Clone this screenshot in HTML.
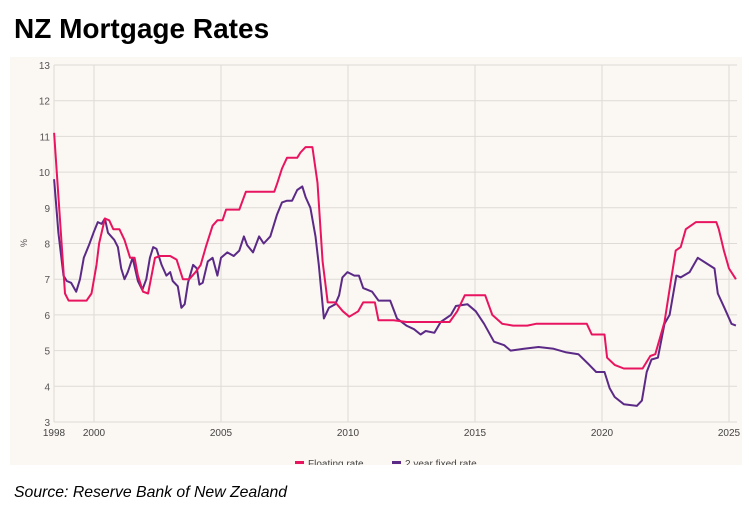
<!DOCTYPE html>
<html><head><meta charset="utf-8"><style>
body{margin:0;width:749px;height:513px;background:#fff;overflow:hidden;position:relative;font-family:"Liberation Sans",sans-serif}
#title{position:absolute;left:14px;top:13px;font-size:28px;font-weight:bold;color:#000;letter-spacing:0px}
#source{position:absolute;left:14px;top:484px;font-size:15.8px;font-style:italic;color:#000}
svg{position:absolute;left:0;top:0}
</style></head><body>
<div id="title">NZ Mortgage Rates</div>
<svg id="chart" width="749" height="513"></svg>
<div id="source">Source: Reserve Bank of New Zealand</div>
<script>
const floatYears=[1998.43,1998.86,1999.0,1999.71,1999.9,2000.1,2000.2,2000.43,2000.6,2000.76,2001.0,2001.2,2001.42,2001.6,2001.73,2001.93,2002.13,2002.4,2002.6,2003.0,2003.25,2003.5,2003.75,2004.0,2004.2,2004.4,2004.67,2004.86,2005.06,2005.2,2005.72,2005.98,2007.1,2007.22,2007.4,2007.6,2008.0,2008.13,2008.33,2008.6,2008.8,2009.0,2009.2,2009.5,2009.8,2010.05,2010.4,2010.6,2011.06,2011.2,2011.8,2012.3,2014.0,2014.3,2014.6,2015.4,2015.68,2016.07,2016.5,2017.06,2017.4,2019.4,2019.6,2020.1,2020.2,2020.5,2020.86,2021.6,2021.9,2022.1,2022.46,2022.7,2022.9,2023.1,2023.3,2023.7,2024.5,2024.6,2024.8,2025.0,2025.27];
const floatRate=[11.1,6.6,6.4,6.4,6.6,7.4,8.0,8.7,8.65,8.4,8.4,8.1,7.6,7.6,7.1,6.65,6.6,7.6,7.65,7.65,7.55,7.0,7.0,7.2,7.4,7.9,8.5,8.65,8.65,8.95,8.95,9.45,9.45,9.7,10.1,10.4,10.4,10.55,10.7,10.7,9.7,7.5,6.35,6.35,6.1,5.95,6.1,6.35,6.35,5.85,5.85,5.8,5.8,6.1,6.55,6.55,6.0,5.75,5.7,5.7,5.75,5.75,5.45,5.45,4.8,4.6,4.5,4.5,4.85,4.9,5.8,6.9,7.8,7.9,8.4,8.6,8.6,8.4,7.8,7.3,7.0];
const fixedYears=[1998.43,1998.6,1998.8,1998.93,1999.1,1999.3,1999.45,1999.6,1999.8,1999.98,2000.15,2000.3,2000.43,2000.55,2000.8,2000.94,2001.07,2001.2,2001.33,2001.52,2001.73,2001.9,2002.06,2002.2,2002.33,2002.46,2002.66,2002.85,2003.0,2003.1,2003.3,2003.44,2003.57,2003.7,2003.9,2004.05,2004.15,2004.28,2004.48,2004.67,2004.86,2005.0,2005.25,2005.5,2005.72,2005.9,2006.03,2006.26,2006.5,2006.68,2006.94,2007.07,2007.2,2007.4,2007.6,2007.8,2008.0,2008.2,2008.33,2008.52,2008.72,2008.85,2009.05,2009.25,2009.5,2009.65,2009.78,2009.98,2010.25,2010.43,2010.6,2010.95,2011.2,2011.66,2011.93,2012.3,2012.6,2012.86,2013.06,2013.4,2013.65,2014.05,2014.25,2014.7,2015.03,2015.36,2015.75,2016.15,2016.4,2016.93,2017.5,2018.1,2018.6,2019.07,2019.5,2019.77,2020.1,2020.3,2020.5,2020.86,2021.37,2021.57,2021.76,2021.95,2022.2,2022.46,2022.66,2022.93,2023.1,2023.45,2023.77,2024.1,2024.43,2024.56,2024.82,2025.1,2025.27];
const fixedRate=[9.8,8.3,7.1,6.95,6.9,6.65,7.0,7.6,7.95,8.3,8.6,8.55,8.7,8.3,8.1,7.9,7.3,7.0,7.2,7.6,6.95,6.7,7.0,7.6,7.9,7.85,7.4,7.1,7.2,6.95,6.8,6.2,6.3,6.9,7.4,7.3,6.85,6.9,7.5,7.6,7.1,7.6,7.75,7.65,7.8,8.2,7.95,7.75,8.2,8.0,8.2,8.5,8.8,9.15,9.2,9.2,9.5,9.6,9.3,9.0,8.2,7.4,5.9,6.2,6.3,6.55,7.05,7.2,7.1,7.1,6.75,6.65,6.4,6.4,5.9,5.7,5.6,5.45,5.55,5.5,5.8,6.0,6.25,6.3,6.1,5.75,5.25,5.15,5.0,5.05,5.1,5.05,4.95,4.9,4.6,4.4,4.4,3.95,3.7,3.5,3.45,3.6,4.4,4.75,4.8,5.75,6.0,7.1,7.05,7.2,7.6,7.45,7.3,6.6,6.2,5.75,5.7];
const yTicks=[3,4,5,6,7,8,9,10,11,12,13];
const xTicks=[2000,2005,2010,2015,2020,2025];
const NS="http://www.w3.org/2000/svg";
const svg=document.getElementById('chart');
const X=y=>94+(y-2000)*25.4;
const Y=v=>65+(13-v)*35.7;
function mk(t,a,p){const e=document.createElementNS(NS,t);for(const k in a)e.setAttribute(k,a[k]);(p||svg).appendChild(e);return e;}
const panel=mk('rect',{x:10,y:57,width:732,height:408,fill:'#fbf7f3'});


const grid=mk('g',{});


yTicks.forEach(v=>{
  mk('line',{x1:54,x2:737,y1:Y(v),y2:Y(v),stroke:'#dedad6','stroke-width':1},grid);
  const t=mk('text',{x:50,y:Y(v)+4,'text-anchor':'end','font-size':10,fill:'#555'});
  t.textContent=v;
  
  
});
mk('line',{x1:54,x2:54,y1:65,y2:422,stroke:'#dedad6'},grid);
xTicks.forEach(yr=>{
  mk('line',{x1:X(yr),x2:X(yr),y1:65,y2:422,stroke:'#dedad6'},grid);
  const t=mk('text',{x:X(yr),y:436,'text-anchor':'middle','font-size':10,fill:'#444'});
  t.textContent=yr;
  
  
});
const t98=mk('text',{x:54,y:436,'text-anchor':'middle','font-size':10,fill:'#444'});
t98.textContent='1998';


const yl=mk('text',{x:27,y:243,'text-anchor':'middle','font-size':9,fill:'#555',transform:'rotate(-90 27 243)'});
yl.textContent='%';


function line(xs,vs,col,name){
  const d=xs.map((x,i)=>(i?'L':'M')+X(x).toFixed(1)+' '+Y(vs[i]).toFixed(1)).join(' ');
  const p=mk('path',{d:d,fill:'none',stroke:col,'stroke-width':2,'stroke-linejoin':'round'});
  
  
}
line(fixedYears,fixedRate,'#5b2a86','fixed-rate-line');
line(floatYears,floatRate,'#e8145f','floating-rate-line');
const clip=mk('clipPath',{id:'lc'});mk('rect',{x:0,y:0,width:749,height:465},clip);
const lg=mk('g',{'clip-path':'url(#lc)'});


mk('rect',{x:295,y:461,width:9,height:3,fill:'#e8145f'},lg);
const l1=mk('text',{x:308,y:467,'font-size':10,fill:'#444'},lg);l1.textContent='Floating rate';


mk('rect',{x:392,y:461,width:9,height:3,fill:'#5b2a86'},lg);
const l2=mk('text',{x:405,y:467,'font-size':10,fill:'#444'},lg);l2.textContent='2 year fixed rate';


</script>
</body></html>
